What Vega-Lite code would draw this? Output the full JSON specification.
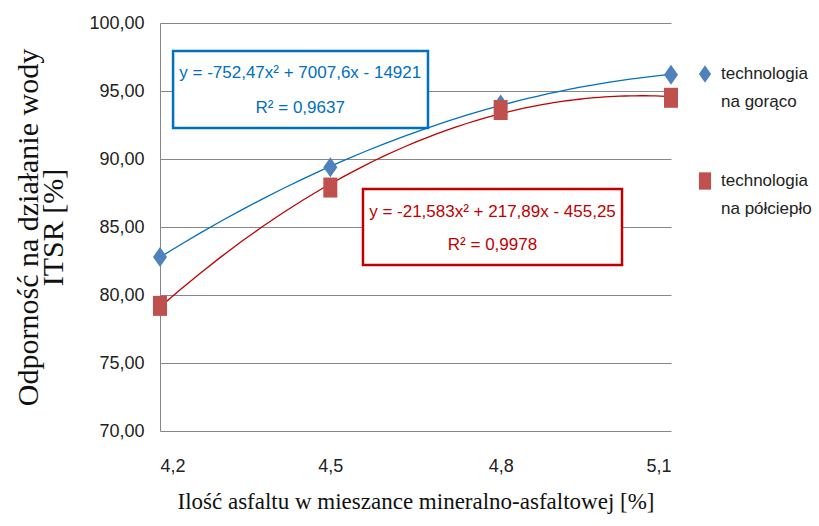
{
  "$schema": "https://vega.github.io/schema/vega-lite/v6.json",
  "width": 511,
  "height": 408,
  "autosize": "none",
  "padding": {"left": 160, "top": 23, "right": 148, "bottom": 95},
  "background": "white",
  "config": {
    "locale": {
      "number": {"decimal": ",", "thousands": " ", "grouping": [3], "currency": ["", " zł"]}
    },
    "view": {"stroke": null},
    "font": "Liberation Sans",
    "style": {"guide-label": {"lineHeight": 28}}
  },
  "datasets": {
    "pomiary": [
      {"asfalt": 4.2, "itsr": 82.8, "technologia": "technologia na gorąco"},
      {"asfalt": 4.5, "itsr": 89.4, "technologia": "technologia na gorąco"},
      {"asfalt": 4.8, "itsr": 94.0, "technologia": "technologia na gorąco"},
      {"asfalt": 5.1, "itsr": 96.2, "technologia": "technologia na gorąco"},
      {"asfalt": 4.2, "itsr": 79.2, "technologia": "technologia na półciepło"},
      {"asfalt": 4.5, "itsr": 87.9, "technologia": "technologia na półciepło"},
      {"asfalt": 4.8, "itsr": 93.6, "technologia": "technologia na półciepło"},
      {"asfalt": 5.1, "itsr": 94.5, "technologia": "technologia na półciepło"}
    ],
    "ramki": [
      {"technologia": "technologia na gorąco", "asfalt": 4.223, "asfalt_do": 4.672, "itsr": 97.94, "itsr_do": 92.28},
      {"technologia": "technologia na półciepło", "asfalt": 4.5575, "asfalt_do": 5.0137, "itsr": 87.79, "itsr_do": 82.21}
    ],
    "rownania": [
      {"technologia": "technologia na gorąco", "asfalt": 4.447, "itsr": 96.32, "tekst": "y = -752,47x² + 7007,6x - 14921"},
      {"technologia": "technologia na gorąco", "asfalt": 4.447, "itsr": 93.75, "tekst": "R² = 0,9637"},
      {"technologia": "technologia na półciepło", "asfalt": 4.7856, "itsr": 86.1, "tekst": "y = -21,583x² + 217,89x - 455,25"},
      {"technologia": "technologia na półciepło", "asfalt": 4.7856, "itsr": 83.68, "tekst": "R² = 0,9978"}
    ]
  },
  "encoding": {
    "x": {
      "field": "asfalt",
      "type": "quantitative",
      "scale": {"domain": [4.2, 5.1], "nice": false, "zero": false},
      "axis": {
        "title": "Ilość asfaltu w mieszance mineralno-asfaltowej [%]",
        "values": [4.2, 4.5, 4.8, 5.1],
        "format": ".1f",
        "grid": false,
        "domain": false,
        "ticks": false,
        "labelFont": "Liberation Sans",
        "labelFontSize": 18,
        "labelColor": "#222222",
        "labelPadding": 26,
        "titleFont": "Liberation Serif",
        "titleFontSize": 23,
        "titleFontWeight": "normal",
        "titleColor": "#111111",
        "titlePadding": 15
      }
    },
    "y": {
      "field": "itsr",
      "type": "quantitative",
      "scale": {"domain": [70, 100], "nice": false, "zero": false},
      "axis": {
        "title": ["Odporność na działanie wody", "ITSR [%]"],
        "values": [70, 75, 80, 85, 90, 95, 100],
        "format": ".2f",
        "grid": true,
        "gridColor": "#868686",
        "gridWidth": 1,
        "domainColor": "#868686",
        "ticks": false,
        "labelFont": "Liberation Sans",
        "labelFontSize": 18,
        "labelColor": "#222222",
        "labelPadding": 16,
        "titleFont": "Liberation Serif",
        "titleFontSize": 30,
        "titleFontWeight": "normal",
        "titleColor": "#111111",
        "titleLineHeight": 25,
        "titlePadding": 20
      }
    }
  },
  "layer": [
    {
      "data": {"name": "pomiary"},
      "transform": [
        {"regression": "itsr", "on": "asfalt", "groupby": ["technologia"], "method": "poly", "order": 2, "extent": [4.2, 5.1]}
      ],
      "mark": {"type": "line", "strokeWidth": 1.3},
      "encoding": {
        "detail": {"field": "technologia", "type": "nominal"},
        "stroke": {
          "condition": {"test": "datum.technologia === 'technologia na gorąco'", "value": "#0070C0"},
          "value": "#C00000"
        }
      }
    },
    {
      "data": {"name": "ramki"},
      "mark": {"type": "rect", "fill": "white", "strokeWidth": 2.5},
      "encoding": {
        "x2": {"field": "asfalt_do"},
        "y2": {"field": "itsr_do"},
        "stroke": {
          "condition": {"test": "datum.technologia === 'technologia na gorąco'", "value": "#0070C0"},
          "value": "#C00000"
        }
      }
    },
    {
      "data": {"name": "rownania"},
      "mark": {"type": "text", "font": "Liberation Sans", "fontSize": 17, "align": "center", "baseline": "middle"},
      "encoding": {
        "text": {"field": "tekst"},
        "color": {
          "condition": {"test": "datum.technologia === 'technologia na gorąco'", "value": "#0070C0"},
          "value": "#C00000"
        }
      }
    },
    {
      "data": {"name": "pomiary"},
      "mark": {"type": "point", "filled": true, "opacity": 1, "size": 400, "strokeWidth": 0},
      "encoding": {
        "fill": {
          "field": "technologia",
          "type": "nominal",
          "scale": {"domain": ["technologia na gorąco", "technologia na półciepło"], "range": ["#4F81BD", "#C0504D"]},
          "legend": {
            "title": null,
            "orient": "none",
            "legendX": 536,
            "legendY": 42,
            "labelExpr": "[substring(datum.label, 0, 11), substring(datum.label, 12)]",
            "labelFont": "Liberation Sans",
            "labelFontSize": 17,
            "labelColor": "#222222",
            "labelLimit": 200,
            "labelOffset": 7,
            "rowPadding": 62,
            "symbolStrokeWidth": 0,
            "symbolSize": 300
          }
        },
        "shape": {
          "field": "technologia",
          "type": "nominal",
          "scale": {"domain": ["technologia na gorąco", "technologia na półciepło"], "range": ["M0,-1L0.7,0L0,1L-0.7,0Z", "M-0.7,-1H0.7V1H-0.7Z"]}
        }
      }
    }
  ]
}
